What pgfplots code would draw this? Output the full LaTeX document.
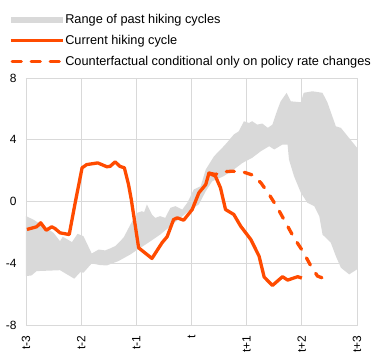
\documentclass[border=0pt]{standalone}
\usepackage{fontspec}
\setmainfont{Liberation Sans}
\usepackage{pgfplots}
\pgfplotsset{compat=1.18}
\definecolor{ecborange}{RGB}{255,75,0}
\definecolor{bandgray}{RGB}{217,217,217}
\definecolor{gridgray}{RGB}{217,217,217}
\begin{document}
\begin{tikzpicture}
\begin{axis}[
  scale only axis,
  width=331bp, height=247bp,
  xmin=-36, xmax=36, ymin=-8, ymax=8,
  xtick={-36,-24,-12,0,12,24,36},
  xticklabels={t-3,t-2,t-1,t,t+1,t+2,t+3},
  ytick={-8,-4,0,4,8},
  grid=major,
  grid style={gridgray, line width=0.8bp},
  axis line style={gridgray, line width=0.8bp},
  major tick length=0pt,
  tick label style={font=\fontsize{12}{14}\selectfont},
  /pgf/number format/assume math mode=true,
  xticklabel style={rotate=90, anchor=east, xshift=-7bp},
  yticklabel style={anchor=east, xshift=-6bp},
  legend style={at={(axis description cs:-0.052,1.262)}, anchor=north west,
    draw=none, fill=none, inner sep=0pt,
    font=\fontsize{12.8}{14}\selectfont, row sep=8bp,
    nodes={inner sep=1bp}},
  legend cell align=left,
  clip=true,
]
\addplot[fill=bandgray, draw=none,
  legend image code/.code={\fill[bandgray] (0bp,-3bp) rectangle (52bp,3bp);}]
coordinates {
(-36,-0.95) (-34.4,-1.17) (-32.2,-1.60) (-30.0,-2.03) (-28.6,-2.57) (-28.0,-2.28)
(-26.0,-2.63) (-24.8,-2.09) (-23.5,-2.25) (-21.7,-3.37) (-20.2,-3.11) (-18.8,-3.17)
(-17.7,-3.04) (-16.6,-2.89) (-14.8,-2.35) (-12.9,-1.28) (-11.8,-0.73) (-10.8,-0.63)
(-10.3,-0.69) (-9.7,-0.19) (-8.6,-0.84) (-7.9,-1.06) (-6.8,-0.95) (-5.7,-1.06)
(-4.6,-0.41) (-3.5,-0.30) (-2.0,-0.52) (-0.9,-0.08) (0.5,0.78) (2.0,0.99)
(3.1,2.07) (4.9,2.93) (6.7,3.48) (7.8,3.84) (9.2,4.34) (10.3,4.55) (11.4,5.20)
(12.5,5.09) (13.2,5.20) (14.3,4.98) (15.4,5.05) (16.6,4.77) (17.6,4.98) (18.7,5.95)
(19.4,6.49) (20.7,7.04) (21.6,6.49) (23.8,6.43) (24.4,7.04) (26.3,7.14) (28.5,7.04)
(29.6,6.39) (31.4,4.87) (32.5,4.77) (36,3.48) (36,-4.40)
(34.3,-4.72) (32.5,-4.29) (31.4,-3.54) (30.3,-2.67) (28.5,-2.14) (27.8,-0.95)
(26.7,-0.30) (25.2,-0.08) (23.8,0.56) (22.3,1.64) (21.2,2.72) (20.9,3.69) (19.8,3.69)
(18.0,3.37) (16.9,3.58) (15.1,3.26) (13.2,2.83) (11.1,2.50) (9.2,2.07) (7.0,1.64)
(4.5,1.31) (3.1,0.67) (1.6,-0.19) (-0.2,-0.52) (-2.4,-1.06) (-4.6,-1.60) (-6.8,-2.14)
(-8.9,-2.57) (-11.1,-3.00) (-13.3,-3.43) (-15.9,-3.86) (-18.4,-4.14) (-19.9,-4.12)
(-21.7,-4.01) (-23.5,-4.61) (-24.2,-4.58) (-25.5,-5.00) (-28.6,-4.45) (-33.7,-4.51)
(-34.8,-4.79) (-36,-4.83)
} -- cycle;
\addlegendentry{Range of past hiking cycles}
\addplot[ecborange, line width=3.3bp, line join=round,
  legend image code/.code={\draw[ecborange, line width=3.3bp] (0bp,0bp) -- (52bp,0bp);}]
coordinates {
(-35.8,-1.81) (-33.7,-1.64) (-32.8,-1.38) (-31.6,-1.86) (-30.4,-1.64) (-29.7,-1.75)
(-28.6,-2.03) (-26.6,-2.14) (-25.3,-0.08) (-23.8,2.18) (-22.8,2.39) (-20.4,2.50)
(-18.4,2.25) (-17.7,2.28) (-16.6,2.57) (-15.6,2.28) (-14.6,2.18) (-13.7,1.10)
(-13.1,0.13) (-11.5,-3.00) (-8.6,-3.69) (-6.4,-2.67) (-5.3,-2.28) (-3.9,-1.17)
(-3.1,-1.06) (-1.7,-1.21) (0.15,-0.52) (1.6,0.56) (3.1,1.10) (3.8,1.84)
(5.2,1.64) (6.3,0.89) (7.4,-0.52) (9.2,-0.84) (10.7,-1.60) (12.9,-2.46)
(14.7,-3.54) (15.8,-4.89) (17.6,-5.44) (19.8,-4.87) (20.9,-5.09) (23.1,-4.87) (24.0,-4.96)
};
\addlegendentry{Current hiking cycle}
\addplot[ecborange, line width=3.3bp, line cap=round, dash pattern=on 8bp off 10bp,
  legend image code/.code={\draw[ecborange, line width=3.3bp, line cap=round, dash pattern=on 9bp off 10bp] (1.6bp,0bp) -- (52bp,0bp);}]
coordinates {
(3.8,1.84) (5.2,1.75) (7.0,1.93) (8.9,1.96) (11.3,1.91) (13.2,1.72) (15.1,1.21)
(16.9,0.45) (18.7,-0.41) (20.5,-1.38) (22.3,-2.35) (24.2,-3.22) (26.0,-4.19)
(27.4,-4.83) (28.9,-5.00)
};
\addlegendentry{Counterfactual conditional only on policy rate changes}
\end{axis}
\useasboundingbox (-26bp,-29bp) rectangle (346bp,325bp);
\end{tikzpicture}
\end{document}
